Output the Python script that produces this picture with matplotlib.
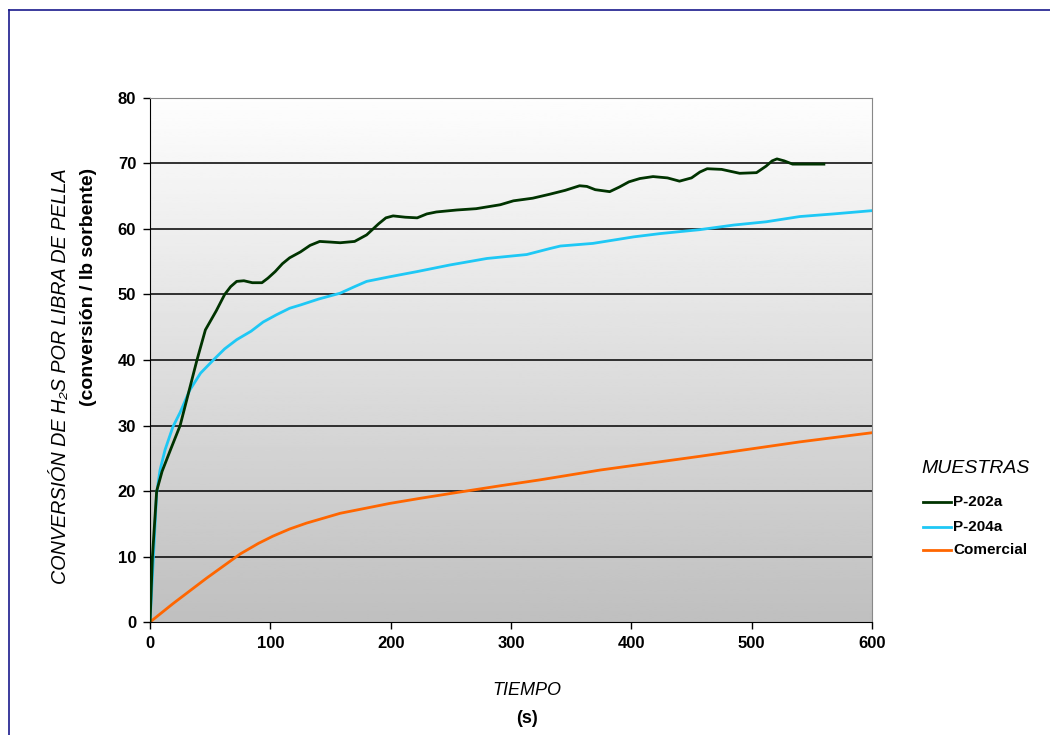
import numpy as np
import matplotlib
matplotlib.use("Agg")
import matplotlib.pyplot as plt
from matplotlib.lines import Line2D

plt.rcParams['font.family'] = ['Liberation Sans', 'DejaVu Sans']

# ---------- data ----------
t_p202 = [0, 2, 5.5, 10, 17, 25, 32, 39, 46, 55, 62, 67, 72, 78, 85, 93, 98, 104, 110,
          116, 125, 133, 141, 150, 158, 170, 180, 190, 196, 202, 212, 222, 230, 238,
          255, 271, 291, 302, 318, 332, 345, 357, 363, 370, 382, 390, 398, 407, 418,
          430, 440, 450, 457, 463, 475, 490, 504, 512, 517, 521, 527, 534, 548, 560]
v_p202 = [0, 10, 20, 23, 26.3, 30, 35, 40, 44.6, 47.5, 50, 51.2, 52.0, 52.1, 51.8,
          51.8, 52.5, 53.5, 54.7, 55.6, 56.5, 57.5, 58.1, 58.0, 57.9, 58.1, 59.1,
          60.8, 61.7, 62.0, 61.8, 61.7, 62.3, 62.6, 62.9, 63.1, 63.7, 64.3, 64.7,
          65.3, 65.9, 66.6, 66.5, 66.0, 65.7, 66.4, 67.2, 67.7, 68.0, 67.8, 67.3,
          67.8, 68.7, 69.2, 69.1, 68.5, 68.6, 69.6, 70.4, 70.7, 70.4, 69.9, 69.9, 69.9]

t_p204 = [0, 2.8, 5.5, 8.3, 12.5, 19, 25, 33, 42, 52.6, 62, 72, 84, 94, 105, 116,
          125, 140, 158, 170, 180, 199, 222, 249, 280, 313, 332, 341, 368, 402, 424,
          457, 485, 512, 540, 568, 600]
v_p204 = [0, 10, 19.7, 23.2, 26.3, 29.8, 32.0, 35.4, 38.0, 40.0, 41.7, 43.1, 44.4,
          45.8, 46.9, 47.9, 48.4, 49.3, 50.2, 51.2, 52.0, 52.7, 53.5, 54.5, 55.5,
          56.1, 57.0, 57.4, 57.8, 58.8, 59.3, 59.9, 60.6, 61.1, 61.9, 62.3, 62.8]

t_com = [0, 19, 47, 75, 90, 102, 116, 130, 145, 158, 180, 199, 225, 249, 291, 324,
         374, 457, 540, 600]
v_com = [0, 2.8, 6.7, 10.4, 12.0, 13.1, 14.2, 15.1, 15.9, 16.6, 17.4, 18.1, 18.9,
         19.6, 20.8, 21.7, 23.2, 25.3, 27.5, 28.9]

series_names = ['P-202a', 'P-204a', 'Comercial']
series_colors = ['#003300', '#1ec8f5', '#ff6600']

x_ticks = [0, 100, 200, 300, 400, 500, 600]
y_ticks = [0, 10, 20, 30, 40, 50, 60, 70, 80]

# ---------- figure ----------
fig = plt.figure(figsize=(10.5, 7.35), dpi=100)
fig.patch.set_facecolor('white')
ax = fig.add_axes([0.1429, 0.1537, 0.6876, 0.713])

# gradient plot area
grad = np.linspace(0.75, 0.995, 256).reshape(-1, 1)
ax.imshow(grad, extent=[0, 600, 0, 80], origin='lower', aspect='auto',
          cmap='gray', vmin=0, vmax=1, zorder=0)

for y in y_ticks[1:-1]:
    ax.axhline(y, color='#111111', lw=1.2, zorder=1)

ax.plot(t_p202, v_p202, color=series_colors[0], lw=2, zorder=3)
ax.plot(t_p204, v_p204, color=series_colors[1], lw=2, zorder=2)
ax.plot(t_com, v_com, color=series_colors[2], lw=2, zorder=2)

ax.set_xlim(0, 600)
ax.set_ylim(0, 80)
ax.set_xticks(x_ticks)
ax.set_yticks(y_ticks)
ax.tick_params(direction='out', length=5, width=1, labelsize=12, pad=5)
for lab in ax.get_xticklabels() + ax.get_yticklabels():
    lab.set_fontweight('bold')
ax.spines['left'].set_color('black')
ax.spines['bottom'].set_color('black')
ax.spines['top'].set_color('#888888')
ax.spines['right'].set_color('#888888')

# axis titles
fig.text(0.057, 0.488, 'CONVERSIÓN DE H₂S POR LIBRA DE PELLA', rotation=90,
         ha='center', va='center', fontsize=14.2, style='italic')
fig.text(0.084, 0.609, '(conversión / lb sorbente)', rotation=90,
         ha='center', va='center', fontsize=14, fontweight='bold')
fig.text(0.502, 0.061, 'TIEMPO', ha='center', va='center', fontsize=13, style='italic')
fig.text(0.502, 0.023, '(s)', ha='center', va='center', fontsize=13, fontweight='bold')

# legend
fig.text(0.878, 0.363, 'MUESTRAS', ha='left', va='center', fontsize=14, style='italic')
leg_y = [0.317, 0.283, 0.252]
for name, col, ly in zip(series_names, series_colors, leg_y):
    fig.add_artist(Line2D([0.879, 0.906], [ly, ly], color=col, lw=2))
    fig.text(0.908, ly, name, ha='left', va='center', fontsize=11, fontweight='bold')

# frame lines (left and top)
fig.add_artist(Line2D([0.0086, 0.0086], [0.0, 0.986], color='#1a1a8c', lw=1.2))
fig.add_artist(Line2D([0.0086, 1.0], [0.986, 0.986], color='#1a1a8c', lw=1.2))

fig.savefig('out.png', dpi=100)
